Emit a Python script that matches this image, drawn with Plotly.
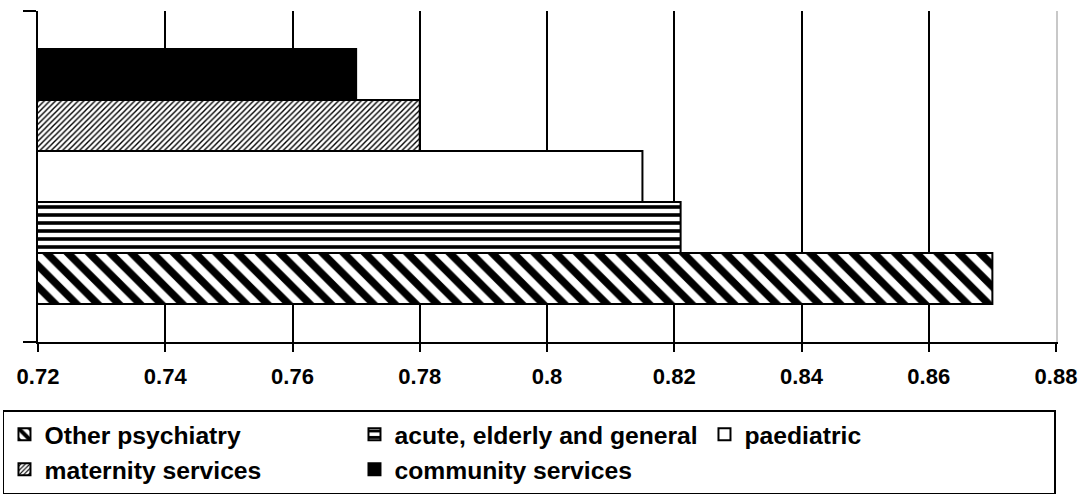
import plotly.graph_objects as go

categories = ["Other psychiatry", "acute, elderly and general", "paediatric",
              "maternity services", "community services"]
values = [0.870, 0.821, 0.815, 0.780, 0.770]
group = ["Services"]
tick_values = [0.72, 0.74, 0.76, 0.78, 0.80, 0.82, 0.84, 0.86, 0.88]
tick_labels = ["0.72", "0.74", "0.76", "0.78", "0.8", "0.82", "0.84", "0.86", "0.88"]


def hatch(shape, size, solidity):
    return dict(color="black", pattern=dict(shape=shape, size=size, solidity=solidity,
                                            fgcolor="black", bgcolor="white",
                                            fgopacity=1, fillmode="replace"))


styles = [
    hatch("\\", 15, 0.5),
    hatch("-", 8, 0.45),
    dict(color="white"),
    hatch("/", 4, 0.35),
    dict(color="black"),
]

FONT = "Liberation Sans, Arial, sans-serif"

fig = go.Figure()
for name, val, st in zip(categories, values, styles):
    marker = dict(st)
    marker["line"] = dict(color="black", width=2)
    fig.add_trace(go.Bar(x=[val], y=group, orientation="h", name=name, marker=marker))

# empty helper trace so the right-hand frame axis exists (draws no mark)
fig.add_trace(go.Scatter(x=[], y=[], yaxis="y2", showlegend=False, hoverinfo="skip"))

fig.update_layout(
    width=1084, height=503,
    margin=dict(l=38, r=28, t=11, b=161, autoexpand=False),
    paper_bgcolor="white", plot_bgcolor="white",
    barmode="group", bargap=0.23, bargroupgap=0,
    font=dict(family=FONT, color="black", size=22, weight="bold"),
    showlegend=True,
    legend=dict(
        orientation="h", x=-0.0344, xanchor="left", y=-0.206, yanchor="top",
        traceorder="normal", bordercolor="black", borderwidth=1.5,
        entrywidth=305, entrywidthmode="pixels", itemwidth=30,
        font=dict(family=FONT, size=24.7, color="black", weight="bold"),
        tracegroupgap=0,
    ),
    xaxis=dict(
        range=[0.72, 0.88], tickvals=tick_values, ticktext=tick_labels,
        showgrid=True, gridcolor="black", gridwidth=2,
        zeroline=False, showline=True, linecolor="black", linewidth=2,
        ticks="outside", ticklen=8, tickwidth=2, tickcolor="black",
        ticklabelstandoff=6,
        tickfont=dict(family=FONT, size=22, color="black", weight="bold"),
    ),
    yaxis=dict(
        type="category", showticklabels=False, tickson="boundaries",
        ticks="outside", ticklen=13, tickwidth=2, tickcolor="black",
        showline=True, linecolor="black", linewidth=2, showgrid=False, zeroline=False,
    ),
    yaxis2=dict(
        overlaying="y", side="right", anchor="x", range=[0, 1], showline=True,
        linecolor="#c8c8c8", linewidth=1.5, showticklabels=False, ticks="",
        showgrid=False, zeroline=False,
    ),
)

fig.write_html("out.html", config={"displayModeBar": False},
               post_script="document.body.style.margin='0';")
